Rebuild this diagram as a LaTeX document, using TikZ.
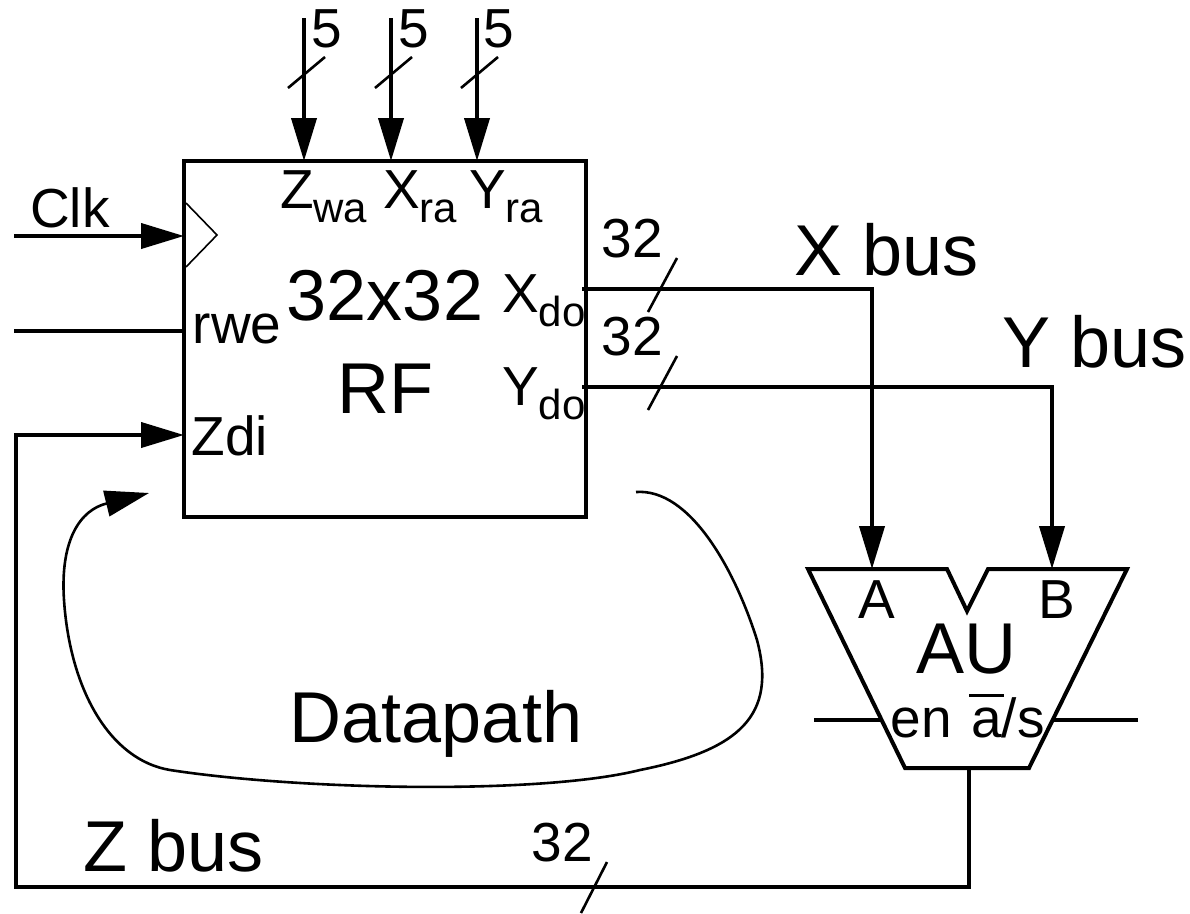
\documentclass[tikz,border=0pt]{standalone}
\usepackage{fontspec}
\setmainfont{Liberation Sans}
\usetikzlibrary{arrows.meta,calc}
\newcommand{\lowsub}[1]{\raisebox{-14pt}{\fontsize{42}{42}\selectfont #1}}
\begin{document}
\begin{tikzpicture}[x=1pt,y=-1pt,line width=4pt,
            big label/.style={font=\fontsize{72}{72}\selectfont,inner sep=0pt,anchor=base},
            mid label/.style={font=\fontsize{55}{55}\selectfont,inner sep=0pt,anchor=base},
            bus/.style={-{Triangle[length=43pt,width=25pt]}},
            slash/.style={line width=2.6pt}]
        \useasboundingbox (0,0) rectangle (1190,913);

        % Define register file and adder
        \node[draw,line width=4pt,minimum width=402pt,minimum height=356pt,inner sep=0pt] (rf) at (385,339) {};
        \draw[line width=1.6pt] (186,203) -- (217,235) -- (186,267);
        \coordinate (au a) at (872,569);
        \coordinate (au b) at (1052,569);
        \draw (808,569) -- (947,569) -- (967,611) -- (988,569) -- (1127,569)
            -- (1029,768) -- (905,768) -- cycle;

        % Define labels
        \node[mid label] (lz5) at (327,47) {5};
        \node[mid label] (lx5) at (414,47) {5};
        \node[mid label] (ly5) at (499,47) {5};
        \node[mid label,anchor=base west] (zwa) at (278,208) {Z\lowsub{wa}};
        \node[mid label,anchor=base west] (xra) at (381,208) {X\lowsub{ra}};
        \node[mid label,anchor=base west] (yra) at (467,208) {Y\lowsub{ra}};
        \node[mid label] (clk) at (70,227) {Clk};
        \node[mid label] (rwe) at (237,343) {rwe};
        \node[mid label] (zdi) at (230,455) {Zdi};
        \node[big label] (size) at (385,320) {32x32};
        \node[big label] (name) at (385,413) {RF};
        \node[mid label,anchor=base west] (xdo) at (500,312) {X\lowsub{do}};
        \node[mid label,anchor=base west] (ydo) at (500,405) {Y\lowsub{do}};
        \node[mid label] (l32x) at (632,257) {32};
        \node[mid label] (l32y) at (632,355) {32};
        \node[big label] (xbus) at (887,275) {X bus};
        \node[big label] (ybus) at (1095,367) {Y bus};
        \node[big label] (dp) at (436,742) {Datapath};
        \node[big label] (zbus) at (174,871) {Z bus};
        \node[mid label] (l32z) at (562,861) {32};
        \node[mid label] (a) at (877,618) {A};
        \node[mid label] (b) at (1057,618) {B};
        \node[big label] (au) at (966,673) {AU};
        \node[mid label] (en) at (921,737) {en};
        \node[mid label] (as) at (1008,737) {\rlap{\hspace{-2pt}\rule[40pt]{35pt}{3pt}}a/s};

        % Define free ends
        \coordinate (zin) at (304,18);
        \coordinate (xin) at (391,18);
        \coordinate (yin) at (477,18);
        \coordinate (clkin) at (14,236);
        \coordinate (rwein) at (14,331);
        \coordinate (rwe end) at (184,331);
        \coordinate (xo) at (582,289);
        \coordinate (yo) at (582,387);
        \coordinate (enin) at (814,720);
        \coordinate (en end) at (881,720);
        \coordinate (asin) at (1138,720);
        \coordinate (as end) at (1053,720);
        \coordinate (auo) at (969,768);

        % Draw edges
        \draw[bus] (zin) -- (304,161);
        \draw[bus] (xin) -- (391,161);
        \draw[bus] (yin) -- (477,161);
        \draw[bus] (clkin) -- (184,236);
        \draw (rwein) -- (rwe end);
        \draw[bus] (xo) -| (au a);
        \draw[bus] (yo) -| (au b);
        \draw (enin) -- (en end);
        \draw (asin) -- (as end);
        \draw[bus] (auo) |- (16,887) |- (184,435);

        % Draw bus slashes
        \foreach \x in {304,391,477}
            \draw[slash] (\x-16,88) -- (\x+21,57);
        \draw[slash] (648,312) -- (677,258);
        \draw[slash] (648,410) -- (677,356);
        \draw[slash] (581,913) -- (607,862);

        % Draw datapath loop
        \draw[line width=2.6pt,-{Triangle[length=44pt,width=26pt]}] (636,492)
            .. controls (690,488) and (735,570) .. (757,640)
            .. controls (777,715) and (740,750) .. (640,770)
            .. controls (540,795) and (300,790) .. (170,770)
            .. controls (110,760) and (70,690) .. (64,600)
            .. controls (60,540) and (80,510) .. (149,493);
\end{tikzpicture}
\end{document}
